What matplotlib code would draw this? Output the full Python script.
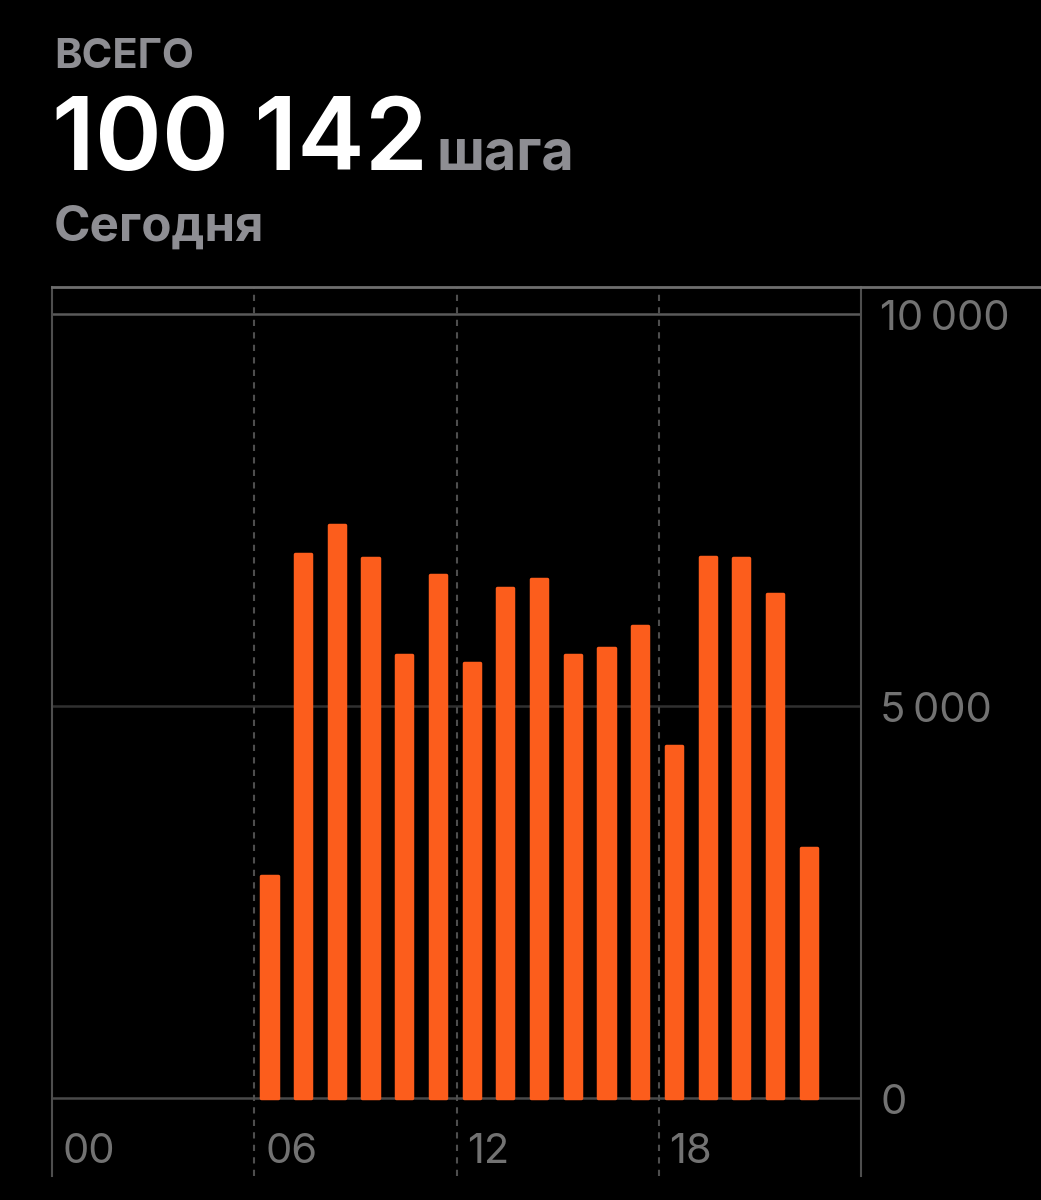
import numpy as np
import matplotlib
matplotlib.use('Agg')
import matplotlib.pyplot as plt
from matplotlib.lines import Line2D
from matplotlib.transforms import ScaledTranslation

# hourly steps (hour of day -> steps)
hours = list(range(6, 23))
steps = [2830, 6940, 7300, 6880, 5640, 6670, 5540, 6500, 6610,
         5640, 5740, 6020, 4480, 6900, 6880, 6420, 3180]
total_label = '100 142'
xtick_hours = [0, 6, 12, 18]
xtick_labels = ['00', '06', '12', '18']
ytick_vals = [0, 5000, 10000]
ytick_labels = ['0', '5\u2009000', '10\u2009000']

bg = 'black'
orange = '#fc5d1c'
grey_txt = '#8e8e93'
tick_col = '#727272'

plt.rcParams['font.family'] = ['Inter', 'DejaVu Sans']

fig = plt.figure(figsize=(10.41, 12), dpi=100, facecolor=bg)
W, H = 1041, 1200

# axes placed in pixels: x 52..861, y 287..1176
ax = fig.add_axes([52 / W, 1 - 1176 / H, (861 - 52) / W, (1176 - 287) / H])
ax.set_facecolor(bg)
ax.set_xlim(0, 24)
ax.set_ylim(-1000, 10340)

# grid lines
grid_cols = ['#4a4a4a', '#303030', '#5a5a5a']
for v, c in zip(ytick_vals, grid_cols):
    ax.axhline(v, color=c, lw=1.8, zorder=1)
for h in xtick_hours[1:]:
    ax.axvline(h, color='#4e4e4e', lw=1.5, ls=(0, (3, 3)), zorder=1)

ax.bar(np.array(hours) + 0.45, steps, width=0.48, color=orange,
       edgecolor=orange, linewidth=2.5, joinstyle='round', zorder=3)

# spines
for s in ['top', 'bottom']:
    ax.spines[s].set_visible(False)
for s in ['left', 'right']:
    ax.spines[s].set_color('#4e4e4e')
    ax.spines[s].set_linewidth(1.5)

ax.set_xticks([])
ax.yaxis.tick_right()
ax.set_yticks(ytick_vals)
ax.set_yticklabels(ytick_labels)
ax.tick_params(axis='y', length=0, pad=14, labelsize=30, labelcolor=tick_col)
shift = ScaledTranslation(0, -5 / 100, fig.dpi_scale_trans)
for t in ax.get_yticklabels():
    t.set_va('center')
    t.set_transform(t.get_transform() + shift)

for h, lab in zip(xtick_hours, xtick_labels):
    ax.text(h + 0.32, -700, lab, color=tick_col, fontsize=30,
            ha='left', va='center')

# top border line across the width
fig.add_artist(Line2D([52 / W, 1.0], [1 - 287 / H, 1 - 287 / H],
                      color='#6e6e6e', lw=2, transform=fig.transFigure))

# header texts
fig.text(54 / W, 1 - 68 / H, 'ВСЕГО', color=grey_txt, fontsize=30,
         fontweight='bold', ha='left', va='baseline')
fig.text(52 / W, 1 - 170 / H, total_label, color='white', fontsize=73,
         fontweight='semibold', ha='left', va='baseline')
fig.text(437 / W, 1 - 170 / H, 'шага', color=grey_txt, fontsize=40,
         fontweight='bold', ha='left', va='baseline')
fig.text(54 / W, 1 - 241 / H, 'Сегодня', color=grey_txt, fontsize=35.5,
         fontweight='bold', ha='left', va='baseline')

fig.savefig('out.png', dpi=100, facecolor=bg)
